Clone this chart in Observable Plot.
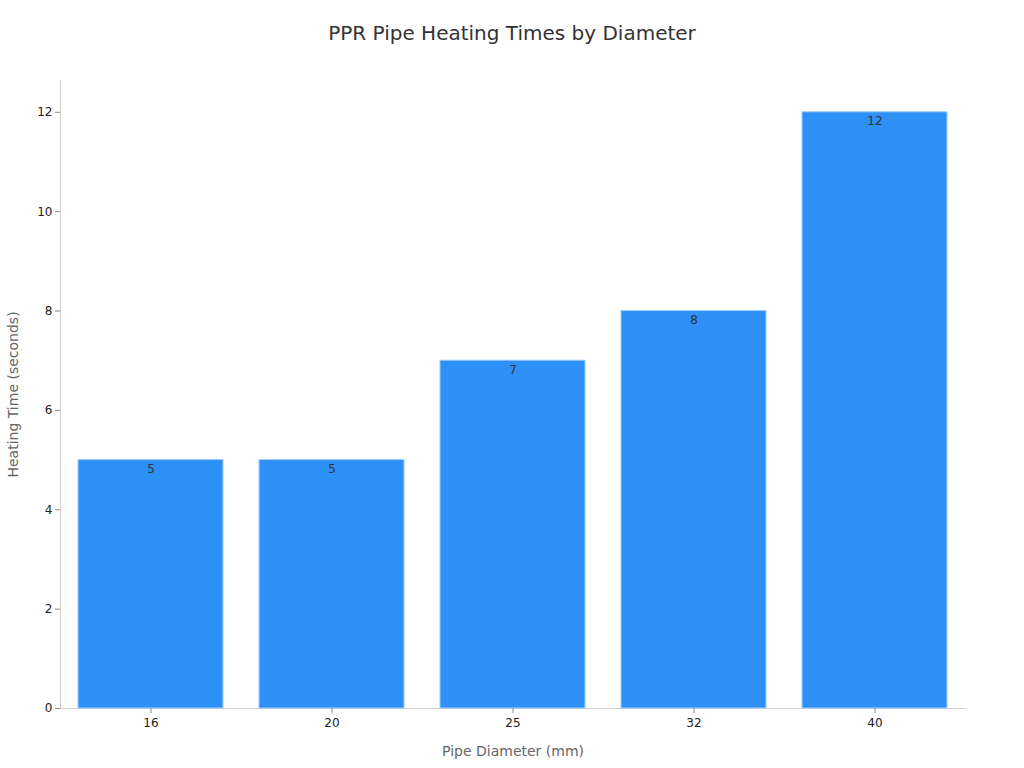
<!DOCTYPE html>
<html><head><meta charset="utf-8">
<script src="https://cdn.jsdelivr.net/npm/d3@7"></script>
<script src="https://cdn.jsdelivr.net/npm/@observablehq/plot@0.6"></script>
<style>
body{margin:0;background:#fff;font-family:"DejaVu Sans",sans-serif;}
#title{height:66px;line-height:66px;text-align:center;font-size:20px;color:#333;}
</style></head>
<body>
<div id="title">PPR Pipe Heating Times by Diameter</div>
<div id="chart"></div>
<script>
const diameters = ["16", "20", "25", "32", "40"];
const times = [5, 5, 7, 8, 12];
const yTicks = [0, 2, 4, 6, 8, 10, 12];
const data = diameters.map((d, i) => ({d, t: times[i]}));

const chart = Plot.plot({
  width: 1024,
  height: 702,
  marginLeft: 60,
  marginRight: 59,
  marginTop: 14,
  marginBottom: 60,
  style: {fontFamily: "DejaVu Sans, sans-serif", fontSize: "12px", color: "#333", background: "#fff"},
  x: {domain: diameters, paddingInner: 0.2, paddingOuter: 0.1, label: null},
  y: {domain: [0, 12.64], label: null},
  marks: [
    Plot.frame({anchor: "left", stroke: "#d0d0d0"}),
    Plot.frame({anchor: "bottom", stroke: "#d0d0d0"}),
    Plot.barY(data, {x: "d", y: "t", fill: "#2e91f8", stroke: "#9ccbfb", strokeWidth: 1}),
    Plot.text(data, {x: "d", y: "t", text: d => String(d.t), dy: 9, fill: "#333", fontSize: 12}),
    Plot.axisY({ticks: yTicks, tickSize: 5, tickPadding: 3, stroke: "#888", fill: "#222", fontSize: 12,
      label: "Heating Time (seconds)", labelAnchor: "center", labelOffset: 52, labelArrow: "none"}),
    Plot.axisX({tickSize: 5, tickPadding: 5, stroke: "#888", fill: "#222", fontSize: 12,
      label: "Pipe Diameter (mm)", labelAnchor: "center", labelOffset: 47, labelArrow: "none"})
  ]
});
document.getElementById("chart").appendChild(chart);
d3.select(chart).selectAll("[aria-label='y-axis label'] text, [aria-label='x-axis label'] text")
  .attr("fill", "#666").style("font-size", "14px");
</script>
</body></html>
